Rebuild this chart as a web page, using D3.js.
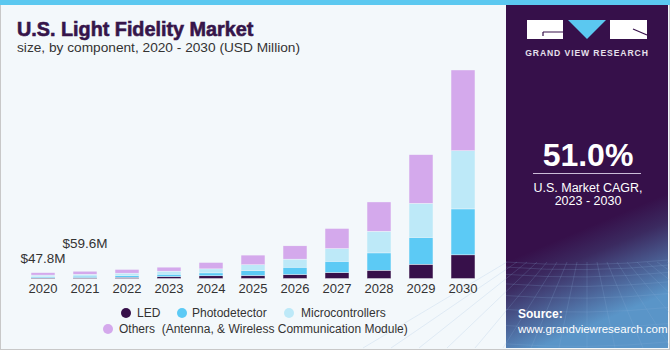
<!DOCTYPE html>
<html><head><meta charset="utf-8">
<script src="https://cdn.jsdelivr.net/npm/d3@7"></script>
<style>
html,body{margin:0;padding:0;background:#fff;}
svg{display:block;}
text{font-family:"Liberation Sans",Arial,sans-serif;}
</style></head>
<body>
<svg id="chart" width="670" height="350"></svg>
<script>
const years = ["2020","2021","2022","2023","2024","2025","2026","2027","2028","2029","2030"];
const led = [6, 7.5, 10, 16, 22, 25, 33, 49, 68, 117, 194];
const photodetector = [10, 12.5, 15, 19.7, 24, 39, 60, 93, 142, 221, 377];
const microcontrollers = [12, 15, 19, 24.6, 33, 49, 66, 104, 178, 279, 478];
const others = [19.8, 24.6, 30, 32.8, 52, 79, 109, 164, 240, 399, 662];
const seriesNames = ["LED","Photodetector","Microcontrollers","Others  (Antenna, & Wireless Communication Module)"];
const seriesColors = ["#37104a","#5ccaf5","#bde9f8","#d4a9ec"];
const annotations = [{year:"2020", text:"$47.8M"},{year:"2021", text:"$59.6M"}];

const svg = d3.select("#chart");
const W = 670, H = 350;

// background
svg.append("rect").attr("x",0).attr("y",0).attr("width",W).attr("height",H).attr("fill","#f3f8fb");
svg.append("rect").attr("x",0.5).attr("y",0.5).attr("width",W-1).attr("height",H-1).attr("fill","none").attr("stroke","#c8c8c8");

// right panel
const defs = svg.append("defs");
const grad = defs.append("linearGradient").attr("id","pg").attr("x1",0).attr("y1",0).attr("x2",0.2).attr("y2",1);
grad.append("stop").attr("offset","0").attr("stop-color","#36104a");
grad.append("stop").attr("offset","0.72").attr("stop-color","#36104a");
grad.append("stop").attr("offset","0.8").attr("stop-color","#3b2a60");
grad.append("stop").attr("offset","1").attr("stop-color","#5a95c8");
svg.append("rect").attr("x",506).attr("y",5).attr("width",162).attr("height",343).attr("fill","url(#pg)");
// mesh grid
const mesh = svg.append("g").attr("stroke","#8fb3d8").attr("stroke-opacity",0.28).attr("stroke-width",0.7).attr("fill","none");
for(let i=0;i<9;i++){ const yy = 262 + i*i*1.1 + i*4; mesh.append("path").attr("d",`M506,${yy} Q587,${yy+6} 668,${yy-2}`);}
for(let i=-8;i<=8;i++){ mesh.append("line").attr("x1",587+i*10).attr("y1",262).attr("x2",587+i*28).attr("y2",348);}

// top blue band
svg.append("rect").attr("x",0).attr("y",0).attr("width",W).attr("height",5).attr("fill","#5bc8f0");

// logo
const lg = svg.append("g");
lg.append("rect").attr("x",527).attr("y",20).attr("width",36).attr("height",19).attr("fill","#fff");
lg.append("path").attr("d","M543,32 H563 M543,32 V36").attr("stroke","#36104a").attr("stroke-width",1.2).attr("fill","none");
lg.append("path").attr("d","M568,20 L606,20 L587,39 Z").attr("fill","#5bc8f0");
lg.append("rect").attr("x",610).attr("y",20).attr("width",37).attr("height",19).attr("fill","#fff");
lg.append("path").attr("d","M633,29 L647,35").attr("stroke","#36104a").attr("stroke-width",1.2);
svg.append("text").attr("x",587).attr("y",55.5).attr("text-anchor","middle").attr("fill","#e6e0ec")
  .attr("font-size",8.6).attr("font-weight","bold").attr("letter-spacing",0.9).text("GRAND VIEW RESEARCH");

svg.append("text").attr("x",588).attr("y",166).attr("text-anchor","middle").attr("fill","#fff")
  .attr("font-size",32).attr("font-weight","bold").text("51.0%");
svg.append("line").attr("x1",533).attr("x2",641).attr("y1",173.5).attr("y2",173.5).attr("stroke","#cbbcd8").attr("stroke-width",1);
svg.append("text").attr("x",588).attr("y",191.5).attr("text-anchor","middle").attr("fill","#fff").attr("font-size",12.5).text("U.S. Market CAGR,");
svg.append("text").attr("x",588).attr("y",205).attr("text-anchor","middle").attr("fill","#fff").attr("font-size",12.5).text("2023 - 2030");
svg.append("text").attr("x",518).attr("y",318).attr("fill","#fff").attr("font-size",12).attr("font-weight","bold").text("Source:");
svg.append("text").attr("x",518).attr("y",332.5).attr("fill","#fff").attr("font-size",11.5).text("www.grandviewresearch.com");

// title
svg.append("text").attr("x",17).attr("y",35.5).attr("fill","#36154a").attr("font-size",19.8).attr("font-weight","bold")
  .attr("stroke","#36154a").attr("stroke-width",0.6).text("U.S. Light Fidelity Market");
svg.append("text").attr("x",17).attr("y",52).attr("fill","#333").attr("font-size",13.7).text("size, by component, 2020 - 2030 (USD Million)");

// chart
const totals = years.map((y,i)=>led[i]+photodetector[i]+microcontrollers[i]+others[i]);
const x = d3.scaleBand().domain(years).range([22,484]).paddingInner(0.43).paddingOuter(0.215);
const y = d3.scaleLinear().domain([0, d3.max(totals)]).range([278.5, 70]);

const rows = years.map((yr,i)=>({year:yr, led:led[i], photo:photodetector[i], micro:microcontrollers[i], others:others[i]}));
const keys = ["led","photo","micro","others"];
const stack = d3.stack().keys(keys)(rows);

const g = svg.append("g");
g.selectAll("g.s").data(stack).join("g").attr("fill",(d,i)=>seriesColors[i])
  .selectAll("rect").data(d=>d).join("rect")
  .attr("x",d=>x(d.data.year)).attr("width",x.bandwidth())
  .attr("y",d=>y(d[1])).attr("height",d=>Math.max(0,y(d[0])-y(d[1])))
  .attr("stroke","#f3f8fb").attr("stroke-width",0.4);

const ax = svg.append("g").attr("transform","translate(0,278.5)")
  .call(d3.axisBottom(x).tickSize(0).tickPadding(5));
ax.select(".domain").remove();
ax.selectAll("text").attr("font-size",13).attr("fill","#333").style("font-family","'Liberation Sans',Arial,sans-serif");

// annotations
const offs = {"2020":9.5, "2021":23};
annotations.forEach(a=>{
  const i = years.indexOf(a.year);
  svg.append("text").attr("x",x(a.year)+x.bandwidth()/2).attr("y",y(totals[i])-offs[a.year])
    .attr("text-anchor","middle").attr("fill","#333").attr("font-size",13.5).text(a.text);
});

// legend
const legendPos = [{cx:126,cy:313,tx:137},{cx:182,cy:313,tx:192},{cx:289,cy:313,tx:301},{cx:108,cy:329,tx:119}];
seriesNames.forEach((n,i)=>{
  const p = legendPos[i];
  svg.append("circle").attr("cx",p.cx).attr("cy",p.cy).attr("r",5).attr("fill",seriesColors[i]);
  svg.append("text").attr("x",p.tx).attr("y",p.cy+4.3).attr("fill","#333").attr("font-size",12)
    .style("white-space","pre").text(n);
});
</script>
</body></html>
